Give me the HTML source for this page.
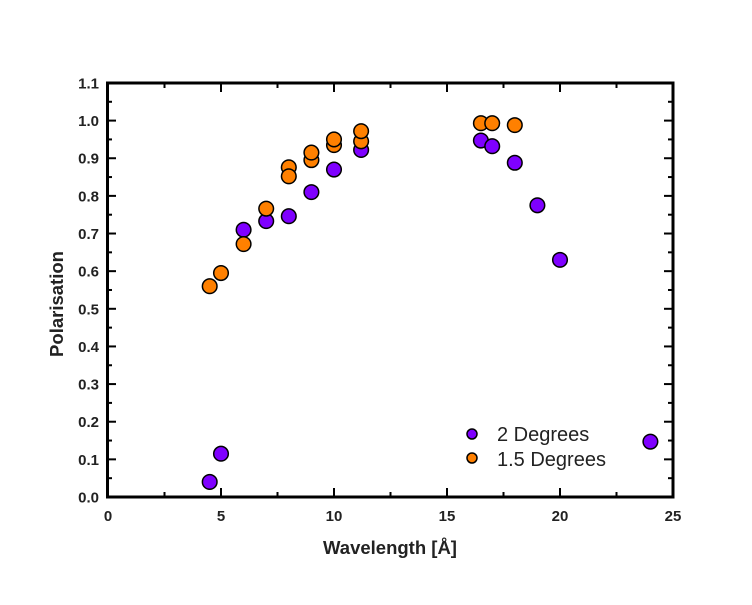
<!DOCTYPE html>
<html><head><style>body{margin:0;background:#fff}</style></head><body>
<svg width="752" height="600" xmlns="http://www.w3.org/2000/svg" font-family="Liberation Sans, Arial, sans-serif">
<rect width="752" height="600" fill="#fff"/>
<g id="ticks" stroke="#000" stroke-width="2"></g>
<rect x="107.5" y="83" width="565.5" height="414" fill="none" stroke="#000" stroke-width="3"/>
<g id="lbl" font-size="15" font-weight="bold" fill="#222"></g>
<g id="pts" stroke="#000" stroke-width="1.5"></g>
<text x="390" y="554" font-size="18.5" font-weight="bold" text-anchor="middle" fill="#222">Wavelength [Å]</text>
<text transform="translate(63,304) rotate(-90)" font-size="18.5" font-weight="bold" text-anchor="middle" fill="#222">Polarisation</text>
<circle cx="472" cy="434" r="5" fill="#7f00ff" stroke="#000" stroke-width="1.5"/>
<circle cx="472" cy="458" r="5" fill="#ff8000" stroke="#000" stroke-width="1.5"/>
<text x="497" y="441" font-size="20" fill="#222">2 Degrees</text>
<text x="497" y="466" font-size="20" fill="#222">1.5 Degrees</text>
<script>
const X=v=>108+v*22.6, Y=v=>497-v*376.4, ns="http://www.w3.org/2000/svg";
const t=document.getElementById('ticks'),l=document.getElementById('lbl'),p=document.getElementById('pts');
function line(x1,y1,x2,y2){const e=document.createElementNS(ns,'line');e.setAttribute('x1',x1);e.setAttribute('y1',y1);e.setAttribute('x2',x2);e.setAttribute('y2',y2);t.appendChild(e);}
function txt(x,y,s,a){const e=document.createElementNS(ns,'text');e.setAttribute('x',x);e.setAttribute('y',y);e.setAttribute('text-anchor',a);e.textContent=s;l.appendChild(e);}
for(let i=0;i<=10;i++){const v=i*2.5,x=X(v),L=i%2?5:9;line(x,497,x,497-L);line(x,83,x,83+L);if(i%2==0)txt(x,521,String(v),'middle');}
for(let i=0;i<=22;i++){const v=i*0.05,y=Y(v),L=i%2?5:9;line(107,y,107+L,y);line(673,y,673-L,y);if(i%2==0)txt(99,y+5.5,(v).toFixed(1),'end');}
const O=[[4.5,.56],[5,.595],[6,.672],[7,.766],[8,.876],[8,.852],[9,.895],[9,.915],[10,.935],[10,.95],[11.2,.945],[11.2,.972],[16.5,.993],[17,.993],[18,.988]];
const P=[[4.5,.04],[5,.115],[6,.71],[7,.733],[8,.746],[9,.81],[10,.87],[11.2,.922],[16.5,.947],[17,.932],[18,.888],[19,.775],[20,.63],[24,.147]];
function dot(d,c){const e=document.createElementNS(ns,'circle');e.setAttribute('cx',X(d[0]));e.setAttribute('cy',Y(d[1]));e.setAttribute('r',7.3);e.setAttribute('fill',c);p.appendChild(e);}
P.forEach(d=>dot(d,'#7f00ff'));O.forEach(d=>dot(d,'#ff8000'));
</script>
</svg>
</body></html>
